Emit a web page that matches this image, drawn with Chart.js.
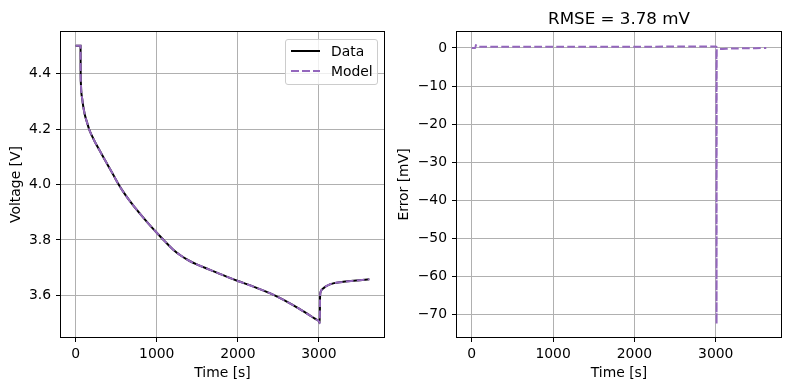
<!DOCTYPE html>
<html>
<head>
<meta charset="utf-8">
<script src="https://cdn.jsdelivr.net/npm/chart.js@4.4.1/dist/chart.umd.min.js"></script>
<style>
  html, body { margin: 0; padding: 0; background: #fff; overflow: hidden; }
  #wrap { position: relative; width: 790px; height: 390px; overflow: hidden; }
  #voltageChart { position: absolute; left: 0; top: 0; }
  #errorChart { position: absolute; left: 395px; top: 0; }
  .title {
    position: absolute; left: 457px; top: 8px; width: 324px; height: 20px; line-height: 20px;
    text-align: center; font-family: 'DejaVu Sans', sans-serif; font-size: 16.7px; color: #000;
  }
  .legend {
    position: absolute; left: 285px; top: 39px; width: 91px; height: 44px;
    border: 1px solid #cccccc; border-radius: 3px; background: rgba(255, 255, 255, 0.8);
    font-family: 'DejaVu Sans', sans-serif; font-size: 13.9px; color: #000;
  }
  .legend .row { position: absolute; left: 0; height: 16px; line-height: 16px; }
  .legend .sample { position: absolute; left: 5px; top: 7px; width: 29px; height: 2px; }
  .legend .label { position: absolute; left: 45px; top: 0; white-space: nowrap; }
  .solid { background: #000; }
  .dashed { background: repeating-linear-gradient(to right, #9467bd 0 7.7px, transparent 7.7px 11px); }
</style>
</head>
<body>
<div id="wrap">
  <canvas id="voltageChart" width="395" height="390"></canvas>
  <canvas id="errorChart" width="395" height="390"></canvas>
  <div class="title">RMSE = 3.78 mV</div>
  <div class="legend">
    <div class="row" style="top: 3px;"><div class="sample solid"></div><div class="label">Data</div></div>
    <div class="row" style="top: 23px;"><div class="sample dashed"></div><div class="label">Model</div></div>
  </div>
</div>
<script>
// values
const timeS = [0, 60, 61, 65, 80, 110, 140, 165, 200, 230, 289, 340, 400, 460, 530, 600, 700, 800, 900, 1000, 1100, 1200, 1300, 1400, 1500, 1650, 1876, 2000, 2200, 2393, 2516, 2620, 2722, 2800, 2887, 2950, 3003, 3010, 3013, 3020, 3052, 3135, 3300, 3460, 3621];
const voltageData = [4.5, 4.5, 4.42, 4.36, 4.31, 4.255, 4.224, 4.2, 4.176, 4.158, 4.126, 4.099, 4.068, 4.037, 4.0, 3.968, 3.928, 3.892, 3.858, 3.826, 3.795, 3.766, 3.743, 3.725, 3.711, 3.693, 3.666, 3.652, 3.631, 3.608, 3.591, 3.575, 3.558, 3.544, 3.528, 3.516, 3.505, 3.5, 3.59, 3.612, 3.625, 3.64, 3.649, 3.654, 3.658];
const voltageModel = [4.5, 4.5, 4.42, 4.36, 4.31, 4.255, 4.224, 4.2, 4.176, 4.158, 4.126, 4.099, 4.068, 4.037, 4.0, 3.968, 3.928, 3.892, 3.858, 3.826, 3.795, 3.766, 3.743, 3.725, 3.711, 3.693, 3.666, 3.652, 3.631, 3.608, 3.591, 3.575, 3.558, 3.544, 3.528, 3.516, 3.505, 3.5, 3.59, 3.612, 3.625, 3.64, 3.649, 3.654, 3.658];

const errTimeS = [0, 45, 50, 60, 100, 1500, 3000, 3008, 3010, 3012, 3030, 3200, 3621];
const errorMv = [0, 0, 0.8, 0.45, 0.35, 0.3, 0.4, 0.35, -72.4, -0.3, -0.3, -0.15, 0];

const timeTicks = [0, 1000, 2000, 3000];
const voltTicks = [3.6, 3.8, 4.0, 4.2, 4.4];
const errTicks = [-70, -60, -50, -40, -30, -20, -10, 0];

const FONT = "'DejaVu Sans', sans-serif";
const PURPLE = "#9467bd";

function pts(xs, ys) {
  return xs.map((x, i) => ({ x: x, y: ys[i] }));
}

function minusSign(v) {
  return v < 0 ? "\u2212" + Math.abs(v) : String(v);
}

function makeScale(o) {
  return {
    type: "linear",
    min: o.min,
    max: o.max,
    afterBuildTicks: (s) => { s.ticks = o.ticks.map((v) => ({ value: v })); },
    afterFit: (s) => { if (s.isHorizontal()) s.height = o.size; else s.width = o.size; },
    ticks: {
      color: "#000",
      font: { family: FONT, size: 13.9 },
      padding: o.tickPad,
      autoSkip: false,
      maxRotation: 0,
      callback: o.fmt,
    },
    grid: { color: "#b0b0b0", lineWidth: 1, drawTicks: true, tickLength: 5, tickColor: "#000" },
    border: { display: false },
    title: {
      display: true,
      text: o.title,
      color: "#000",
      font: { family: FONT, size: 13.9 },
      padding: o.titlePad,
    },
  };
}

// black frame round the plot area, drawn over the lines like matplotlib spines
const spines = {
  id: "spines",
  afterDatasetsDraw(chart) {
    const { ctx, chartArea: a } = chart;
    ctx.save();
    ctx.strokeStyle = "#000";
    ctx.lineWidth = 1;
    ctx.strokeRect(Math.round(a.left) - 0.5, Math.round(a.top) - 0.5,
      Math.round(a.right - a.left) + 1, Math.round(a.bottom - a.top) + 1);
    ctx.restore();
  },
};

const lineStyle = { pointRadius: 0, cubicInterpolationMode: "monotone", fill: false, borderWidth: 2 };

new Chart(document.getElementById("voltageChart"), {
  type: "line",
  data: {
    datasets: [
      { label: "Data", data: pts(timeS, voltageData), borderColor: "#000", order: 1, ...lineStyle },
      { label: "Model", data: pts(timeS, voltageModel), borderColor: PURPLE, borderDash: [7.7, 3.3], order: 0, ...lineStyle },
    ],
  },
  options: {
    responsive: false,
    animation: false,
    layout: { padding: { left: 0, top: 32, right: 11, bottom: 0 } },
    scales: {
      x: makeScale({ min: -181, max: 3802, ticks: timeTicks, size: 53, tickPad: 4,
        fmt: (v) => String(v), title: "Time [s]", titlePad: { top: 0, bottom: 8 } }),
      y: makeScale({ min: 3.45, max: 4.55, ticks: voltTicks, size: 61, tickPad: 5,
        fmt: (v) => v.toFixed(1), title: "Voltage [V]", titlePad: { top: 8, bottom: 0 } }),
    },
    plugins: { legend: { display: false }, tooltip: { enabled: false } },
  },
  plugins: [spines],
});

new Chart(document.getElementById("errorChart"), {
  type: "line",
  data: {
    datasets: [
      { label: "Error", data: pts(errTimeS, errorMv), borderColor: PURPLE, borderDash: [7.7, 3.3], ...lineStyle },
    ],
  },
  options: {
    responsive: false,
    animation: false,
    layout: { padding: { left: 0, top: 32, right: 9, bottom: 0 } },
    scales: {
      x: makeScale({ min: -181, max: 3802, ticks: timeTicks, size: 53, tickPad: 4,
        fmt: (v) => String(v), title: "Time [s]", titlePad: { top: 0, bottom: 8 } }),
      y: makeScale({ min: -75.9, max: 4.2, ticks: errTicks, size: 62, tickPad: 5,
        fmt: minusSign, title: "Error [mV]", titlePad: { top: 1, bottom: 0 } }),
    },
    plugins: { legend: { display: false }, tooltip: { enabled: false } },
  },
  plugins: [spines],
});
</script>
</body>
</html>
